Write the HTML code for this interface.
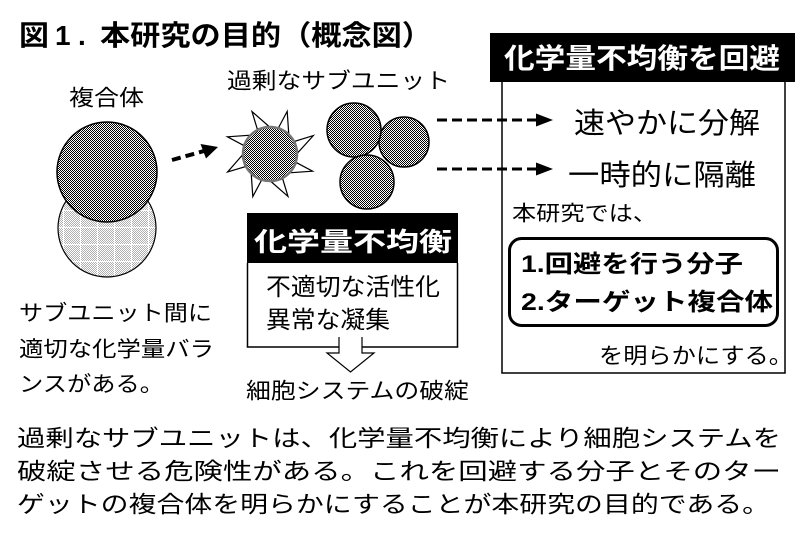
<!DOCTYPE html>
<html><head><meta charset="utf-8"><style>
html,body{margin:0;padding:0;background:#fff;}
svg{display:block;}
text{font-family:"Liberation Sans","Noto Sans CJK JP",sans-serif;fill:#000;}
.b{font-weight:bold;}
.w{fill:#fff;}
</style></head><body>
<svg width="806" height="535" viewBox="0 0 806 535" xmlns="http://www.w3.org/2000/svg">
<defs>
<pattern id="chk" width="2" height="2" patternUnits="userSpaceOnUse"><rect width="2" height="2" fill="#fff"/><rect width="1" height="1" fill="#000"/><rect x="1" y="1" width="1" height="1" fill="#000"/></pattern>
<pattern id="lchk" width="2" height="2" patternUnits="userSpaceOnUse"><rect width="2" height="2" fill="#fff"/><rect width="1" height="1" fill="#b0b0b0"/><rect x="1" y="1" width="1" height="1" fill="#b0b0b0"/></pattern>
<pattern id="grid" x="80" y="227" width="17" height="17" patternUnits="userSpaceOnUse"><rect width="17" height="17" fill="url(#lchk)"/><rect width="1" height="17" fill="#fff"/><rect width="17" height="1" fill="#fff"/></pattern>
</defs>
<rect width="806" height="535" fill="#fff"/>

<!-- Title -->
<text class="b" x="19" y="45" font-size="28" textLength="30" lengthAdjust="spacingAndGlyphs">図</text>
<text class="b" x="55" y="45" font-size="28">1</text>
<text class="b" x="78" y="45" font-size="28">.</text>
<text class="b" x="100" y="45" font-size="28" textLength="332" lengthAdjust="spacingAndGlyphs">本研究の目的（概念図）</text>

<!-- Complex -->
<text x="69" y="105.5" font-size="22" textLength="75" lengthAdjust="spacingAndGlyphs">複合体</text>
<circle cx="107" cy="228" r="49" fill="url(#grid)" stroke="#000" stroke-width="1.2"/>
<circle cx="107" cy="172" r="50" fill="url(#chk)" stroke="#000" stroke-width="1.5"/>

<!-- left dashed arrow -->
<line x1="172" y1="160" x2="204" y2="151" stroke="#000" stroke-width="4" stroke-dasharray="9 5"/>
<polygon points="218,147 206,158.5 200.5,144" fill="#000"/>

<!-- excess subunit -->
<text x="227" y="88.5" font-size="22" textLength="223" lengthAdjust="spacingAndGlyphs">過剰なサブユニット</text>
<g fill="#fff" stroke="#000" stroke-width="1.2" stroke-linejoin="miter">
<polygon points="294.9,141.3 298.0,152.5 313.3,135.6"/>
<polygon points="296.6,162.7 290.8,172.7 312.6,171.2"/>
<polygon points="282.7,178.9 271.5,182.0 288.0,196.4"/>
<polygon points="261.3,180.6 251.3,174.8 252.8,196.6"/>
<polygon points="245.1,166.7 242.0,155.5 227.6,172.0"/>
<polygon points="243.4,145.3 249.2,135.3 227.4,136.8"/>
<polygon points="257.3,129.1 268.5,126.0 252.0,111.6"/>
<polygon points="278.7,127.4 288.7,133.2 287.2,111.4"/>
</g>
<circle cx="270" cy="154" r="27" fill="url(#chk)" stroke="#777" stroke-width="2.5"/>

<circle cx="404" cy="142" r="25" fill="url(#chk)" stroke="#000" stroke-width="1.5"/>
<circle cx="354" cy="130" r="27" fill="url(#chk)" stroke="#000" stroke-width="1.5"/>
<circle cx="367" cy="182" r="27" fill="url(#chk)" stroke="#000" stroke-width="1.5"/>

<!-- right box -->
<line x1="502" y1="82" x2="502" y2="373" stroke="#000" stroke-width="1.5"/>
<line x1="785" y1="82" x2="785" y2="373" stroke="#000" stroke-width="1.5"/>
<line x1="501.25" y1="373" x2="785.75" y2="373" stroke="#000" stroke-width="1.5"/>
<rect x="490" y="33" width="305" height="49" fill="#000"/>
<text class="b w" x="504" y="68" font-size="28" textLength="276" lengthAdjust="spacingAndGlyphs">化学量不均衡を回避</text>

<!-- right dashed arrows -->
<line x1="437" y1="120" x2="537" y2="120" stroke="#000" stroke-width="3" stroke-dasharray="10 5"/>
<polygon points="536,113.5 553,120 536,126.5" fill="#000"/>
<line x1="437" y1="169" x2="537" y2="169" stroke="#000" stroke-width="3" stroke-dasharray="10 5"/>
<polygon points="536,162.5 553,169 536,175.5" fill="#000"/>

<text x="574" y="133" font-size="29" textLength="186" lengthAdjust="spacingAndGlyphs">速やかに分解</text>
<text x="568" y="185" font-size="29" textLength="188" lengthAdjust="spacingAndGlyphs">一時的に隔離</text>
<text x="512" y="220.5" font-size="21" textLength="145" lengthAdjust="spacingAndGlyphs">本研究では、</text>

<rect x="509.5" y="238.5" width="268" height="87" rx="12" ry="12" fill="#fff" stroke="#000" stroke-width="3"/>
<text class="b" x="521" y="272" font-size="24" textLength="222" lengthAdjust="spacingAndGlyphs">1.回避を行う分子</text>
<text class="b" x="521" y="310" font-size="24" textLength="252" lengthAdjust="spacingAndGlyphs">2.ターゲット複合体</text>
<text x="599" y="363.5" font-size="22" textLength="194" lengthAdjust="spacingAndGlyphs">を明らかにする。</text>

<!-- middle box -->
<rect x="247" y="213" width="211" height="50" fill="#000"/>
<text class="b w" x="254" y="251" font-size="26" textLength="198" lengthAdjust="spacingAndGlyphs">化学量不均衡</text>
<line x1="247.5" y1="263" x2="247.5" y2="347" stroke="#000" stroke-width="1.5"/>
<line x1="457.5" y1="263" x2="457.5" y2="347" stroke="#000" stroke-width="1.5"/>
<line x1="246.75" y1="347" x2="339" y2="347" stroke="#000" stroke-width="1.5"/>
<line x1="362" y1="347" x2="458.25" y2="347" stroke="#000" stroke-width="1.5"/>
<polyline points="339,337 339,353 327,353 350.5,372 374,353 362,353 362,337" fill="#fff" stroke="#000" stroke-width="1.2"/>
<text x="266" y="295" font-size="24" textLength="174" lengthAdjust="spacingAndGlyphs">不適切な活性化</text>
<text x="266" y="328" font-size="24" textLength="124" lengthAdjust="spacingAndGlyphs">異常な凝集</text>
<text x="246" y="398.5" font-size="22" textLength="223" lengthAdjust="spacingAndGlyphs">細胞システムの破綻</text>

<!-- left text -->
<text x="19" y="320.5" font-size="21.5" textLength="193" lengthAdjust="spacingAndGlyphs">サブユニット間に</text>
<text x="19" y="356.5" font-size="21.5" textLength="195" lengthAdjust="spacingAndGlyphs">適切な化学量バラ</text>
<text x="19" y="391.5" font-size="21.5" textLength="145" lengthAdjust="spacingAndGlyphs">ンスがある。</text>

<!-- bottom paragraph -->
<text x="17" y="446" font-size="23" textLength="764" lengthAdjust="spacingAndGlyphs">過剰なサブユニットは、化学量不均衡により細胞システムを</text>
<text x="17" y="479" font-size="23" textLength="764" lengthAdjust="spacingAndGlyphs">破綻させる危険性がある。これを回避する分子とそのター</text>
<text x="17" y="512" font-size="23" textLength="753" lengthAdjust="spacingAndGlyphs">ゲットの複合体を明らかにすることが本研究の目的である。</text>
</svg>
</body></html>
